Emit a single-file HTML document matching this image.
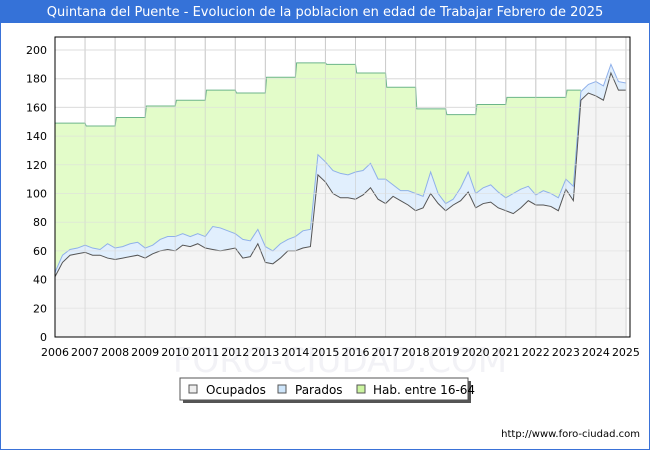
<!DOCTYPE html>
<html><head><meta charset="utf-8"><style>
body{margin:0;background:#fff;font-family:"Liberation Sans","DejaVu Sans",sans-serif}
svg text{font-family:"DejaVu Sans","Liberation Sans",sans-serif}
</style></head><body>
<svg id="c" width="650" height="450" xmlns="http://www.w3.org/2000/svg">
<rect x="0.5" y="0.5" width="649" height="449" fill="#fff" stroke="#3a72d8"/>
<rect x="0" y="0" width="650" height="23" fill="#3572d8"/>
<text x="325" y="16" text-anchor="middle" font-size="13" fill="#fff">Quintana del Puente - Evolucion de la poblacion en edad de Trabajar Febrero de 2025</text>
<text x="340" y="372" text-anchor="middle" font-size="34" fill="#f2f2f6">FORO-CIUDAD.COM</text>
<g id="grid"></g>
<g id="series"></g>
<rect x="55" y="37" width="575" height="300" fill="none" stroke="#000"/>
<g id="axes"></g>
<g>
<rect x="183" y="381" width="288" height="22" fill="#555"/>
<rect x="180" y="378" width="288" height="22" fill="#fff" stroke="#555"/>
<rect x="189" y="385" width="8" height="8" fill="#eee" stroke="#555"/>
<text x="206" y="394" font-size="12">Ocupados</text>
<rect x="278" y="385" width="8" height="8" fill="#cfe6fb" stroke="#555"/>
<text x="295" y="394" font-size="12">Parados</text>
<rect x="357" y="385" width="8" height="8" fill="#ccf5a0" stroke="#555"/>
<text x="373" y="394" font-size="12">Hab. entre 16-64</text>
</g>
<text x="640" y="437" text-anchor="end" font-size="10">http://www.foro-ciudad.com</text>
</svg>
<script>
const years=[2006,2007,2008,2009,2010,2011,2012,2013,2014,2015,2016,2017,2018,2019,2020,2021,2022,2023,2024,2025];
const yTicks=[0,20,40,60,80,100,120,140,160,180,200];
const hab=[149,147,153,161,165,172,170,181,191,190,184,174,159,155,162,167,167,172];
const ocupados=[42,52,57,58,59,57,57,55,54,55,56,57,55,58,60,61,60,64,63,65,62,61,60,61,62,55,56,65,52,51,55,60,60,62,63,113,108,100,97,97,96,99,104,96,93,98,95,92,88,90,100,93,88,92,95,101,90,93,94,90,88,86,90,95,92,92,91,88,103,95,165,170,168,165,184,172,172];
const parados=[3,5,4,4,5,5,4,10,8,8,9,9,7,6,8,9,10,8,7,7,8,16,16,13,10,13,11,10,11,9,10,8,10,12,12,14,14,16,17,16,19,17,17,14,17,8,7,10,12,8,15,7,5,4,9,14,10,11,12,11,9,14,13,10,7,10,9,9,7,10,6,6,10,10,6,6,5];
const NS='http://www.w3.org/2000/svg';
const X0=55,X1=630,Y0=337;
function xs(t){return X0+(t-2006)*30.05;}
function ys(v){return Y0-v*1.435;}
function mk(tag,attrs,parent){const e=document.createElementNS(NS,tag);for(const k in attrs)e.setAttribute(k,attrs[k]);parent.appendChild(e);return e;}
const grid=document.getElementById('grid'),axes=document.getElementById('axes'),ser=document.getElementById('series');
yTicks.forEach(v=>{const l=mk('line',{x1:X0,x2:X1,y1:ys(v),y2:ys(v),stroke:'#ddd'},grid);


const t=mk('text',{x:X0-8,y:ys(v)+4,'text-anchor':'end','font-size':11},axes);t.textContent=v;

});
years.forEach(y=>{const l=mk('line',{x1:xs(y),x2:xs(y),y1:37,y2:Y0,stroke:'#ccc'},grid);


const t=mk('text',{x:xs(y),y:356,'text-anchor':'middle','font-size':11},axes);t.textContent=y;

});
// hab step
let hp=[];hab.forEach((v,i)=>{const a=2006+i+(i?0.04:0),b=2006+i+(i===hab.length-1?0.5:1);hp.push([xs(a),ys(v)],[xs(b),ys(v)]);});
const habLine=hp.map(p=>p.join(',')).join(' ');
const hf=mk('polygon',{points:xs(2006)+','+Y0+' '+habLine+' '+xs(2023.5)+','+Y0,fill:'#e3fcc9'},ser);


const hl=mk('polyline',{points:habLine,fill:'none',stroke:'#6cb58a','stroke-width':1},ser);


const tx=i=>Math.min(xs(2006+i*0.25),X1);
const totPts=ocupados.map((o,i)=>tx(i)+','+ys(o+parados[i])).join(' ');
const ocPts=ocupados.map((o,i)=>tx(i)+','+ys(o)).join(' ');
const last=tx(ocupados.length-1);
const pf=mk('polygon',{points:xs(2006)+','+Y0+' '+totPts+' '+last+','+Y0,fill:'#e1effd'},ser);


const pl=mk('polyline',{points:totPts,fill:'none',stroke:'#8fb0ea'},ser);


const of=mk('polygon',{points:xs(2006)+','+Y0+' '+ocPts+' '+last+','+Y0,fill:'#f4f4f4'},ser);


const ol=mk('polyline',{points:ocPts,fill:'none',stroke:'#555'},ser);


// redraw grid lines faintly over fills
years.forEach(y=>{const l=mk('line',{x1:xs(y),x2:xs(y),y1:37,y2:Y0,stroke:'#ccc','stroke-opacity':0.6},ser);

});
yTicks.forEach(v=>{const l=mk('line',{x1:X0,x2:X1,y1:ys(v),y2:ys(v),stroke:'#ddd','stroke-opacity':0.6},ser);

});
</script>
</body></html>
